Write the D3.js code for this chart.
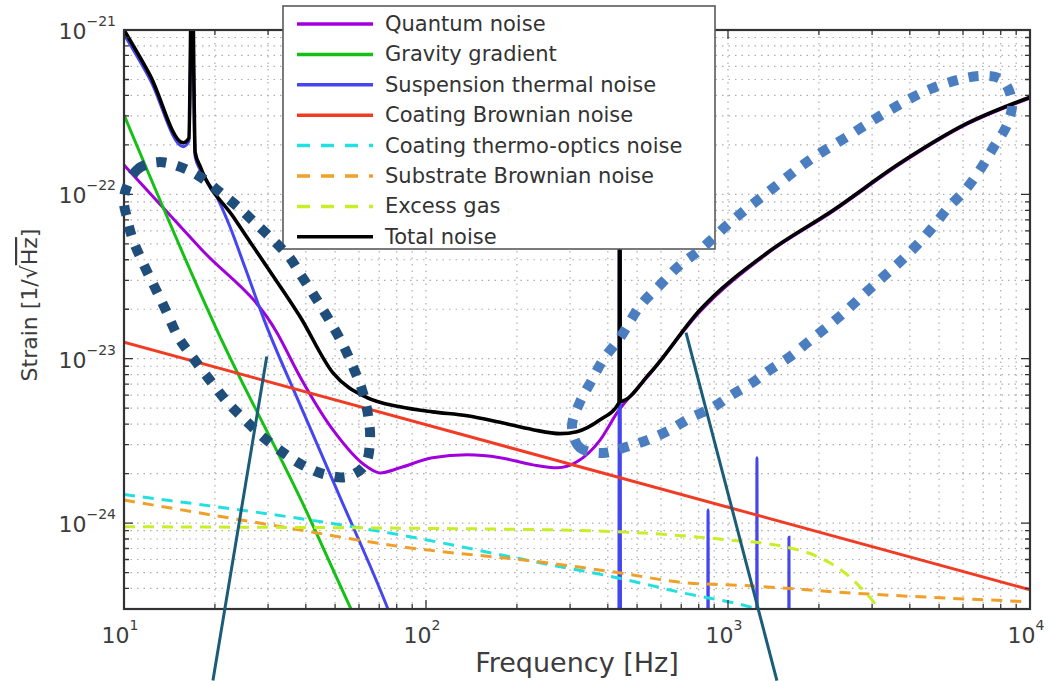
<!DOCTYPE html>
<html>
<head>
<meta charset="utf-8">
<script src="https://cdn.jsdelivr.net/npm/d3@7"></script>
<style>
    body { margin: 0; background: #fff; }
    svg { display: block; font-family: "DejaVu Sans", sans-serif; }
</style>
</head>
<body>
<svg id="chart" width="1051" height="681"></svg>
<script>
// [frequency Hz, strain 1/sqrt(Hz)]
const quantumNoise = [
    [10, 1.51e-22], [17.9, 4.7e-23], [32.1, 1.44e-23], [38.3, 7.75e-24], [49.2, 3.69e-24],
    [63.8, 2.2e-24], [70.5, 2.02e-24], [82, 2.17e-24], [105, 2.5e-24], [137, 2.6e-24],
    [176, 2.5e-24], [226, 2.26e-24], [272, 2.17e-24], [316, 2.36e-24], [377, 3.2e-24],
    [429, 4.68e-24], [552, 8.1e-24], [807, 1.93e-23], [1346, 4.35e-23], [2228, 7.9e-23],
    [3715, 1.53e-22], [6180, 2.67e-22], [10000, 3.85e-22]
];
const gravityGradient = [[10, 3.04e-22], [20.3, 1.5e-23], [40, 1.2e-24], [56, 3.1e-25], [70, 1.3e-25]];
const suspensionThermal = [
    [10, 9.4e-22], [12.2, 5.0e-22], [15.7, 1.95e-22], [16.4, 2.1e-22], [16.8, 2e-21],
    [17.2, 1.7e-22], [17.9, 1.4e-22], [20.0, 1.02e-22], [22.4, 6.4e-23], [25.2, 3.56e-23],
    [29.3, 1.67e-23], [38.3, 5.24e-24], [51.9, 1.44e-24], [74.8, 3.0e-25], [90, 1.2e-25],
    [434, 1e-26], [438, 2e-21], [442, 1e-26],
    [855, 1e-26], [859, 1.2e-24], [863, 1e-26],
    [1242, 1e-26], [1247, 2.5e-24], [1252, 1e-26],
    [1586, 1e-26], [1592, 8.2e-25], [1598, 1e-26]
];
const coatingBrownian = [[10, 1.26e-23], [10000, 3.93e-25]];
const coatingThermoOptic = [
    [10, 1.49e-24], [82, 8.47e-25], [258, 5.57e-25], [429, 4.65e-25], [709, 3.76e-25],
    [1183, 3.09e-25], [1500, 2.7e-25]
];
const substrateBrownian = [
    [10, 1.38e-24], [30, 9.8e-25], [82, 7.2e-25], [258, 5.7e-25], [430, 5.0e-25],
    [709, 4.35e-25], [1183, 4.15e-25], [2535, 3.76e-25], [10000, 3.32e-25]
];
const excessGas = [
    [10, 9.5e-25], [258, 9.1e-25], [1000, 7.9e-25], [1530, 7.2e-25], [1960, 6.3e-25],
    [2530, 4.7e-25], [2880, 3.7e-25], [3170, 3.0e-25], [3400, 2.5e-25]
];
const totalNoise = [
    [10, 1.0e-21], [12.2, 5.3e-22], [15.7, 2.06e-22], [16.4, 2.2e-22], [16.8, 3e-21],
    [17.2, 1.8e-22], [17.9, 1.47e-22], [23.0, 7.3e-23], [29.8, 3.6e-23], [38.3, 1.8e-23],
    [49.2, 8.2e-24], [63.8, 5.8e-24], [82, 5.1e-24], [105, 4.75e-24], [137, 4.5e-24],
    [176, 4.1e-24], [226, 3.7e-24], [278, 3.5e-24], [316, 3.6e-24], [377, 4.25e-24],
    [436, 5.4e-24], [438, 3e-21], [440, 5.5e-24], [552, 8.2e-24], [807, 1.98e-23],
    [1346, 4.4e-23], [2228, 8.0e-23], [3715, 1.55e-22], [6180, 2.7e-22], [10000, 3.9e-22]
];

const legendLabels = [
    "Quantum noise", "Gravity gradient", "Suspension thermal noise", "Coating Brownian noise",
    "Coating thermo-optics noise", "Substrate Brownian noise", "Excess gas", "Total noise"
];
const xTicks = [10, 100, 1000, 10000];
const xTickExp = ["1", "2", "3", "4"];
const yTicks = [1e-21, 1e-22, 1e-23, 1e-24];
const yTickExp = ["\u221221", "\u221222", "\u221223", "\u221224"];

// hand-drawn annotations, same units as the data
const leftLoop = [
    [10, 9.64e-23], [11.04, 1.41e-22], [12.96, 1.57e-22], [15.33, 1.47e-22], [17.85, 1.28e-22],
    [20.79, 1.03e-22], [23.85, 8.38e-23], [27.16, 6.7e-23], [31.14, 5.28e-23], [35.45, 4.1e-23],
    [38.86, 3.15e-23], [42.9, 2.38e-23], [47.37, 1.77e-23], [52.71, 1.25e-23], [57.33, 8.91e-24],
    [61.41, 6.46e-24], [64.27, 4.55e-24], [65.27, 3.21e-24], [62.81, 2.26e-24], [54.76, 1.91e-24],
    [45.6, 1.99e-24], [38.86, 2.26e-24], [33.37, 2.71e-24], [28.86, 3.34e-24], [25.16, 4.24e-24],
    [22.1, 5.38e-24], [19.56, 7.13e-24], [16.8, 1.03e-23], [15.1, 1.36e-23], [13.88, 1.9e-23],
    [12.86, 2.55e-23], [11.73, 3.61e-23], [10.71, 5.28e-23], [10.23, 7.18e-23]
];
const rightLoop = [
    [385.6, 2.67e-24], [323.6, 2.87e-24], [304.4, 3.85e-24], [323.6, 5.46e-24], [354.6, 7.43e-24],
    [385.6, 9.83e-24], [438.9, 1.34e-23], [511.1, 2.09e-23], [595.5, 2.81e-23], [693.6, 3.72e-23],
    [807.9, 4.59e-23], [1039, 6.98e-23], [1409, 1.09e-22], [1868, 1.62e-22], [2535, 2.3e-22],
    [3440, 3.26e-22], [4773, 4.44e-22], [6831, 5.25e-22], [8076, 4.97e-22], [8717, 3.65e-22],
    [8391, 2.64e-22], [7543, 1.91e-22], [6831, 1.41e-22], [6093, 1.06e-22], [5352, 8.27e-23],
    [4773, 6.34e-23], [4224, 4.92e-23], [3711, 3.88e-23], [3236, 3.1e-23], [2800, 2.44e-23],
    [2440, 1.93e-23], [2127, 1.56e-23], [1840, 1.26e-23], [1605, 1.03e-23], [1377, 8.55e-24],
    [1201, 7.13e-24], [1031, 6.03e-24], [885, 5.02e-24], [749, 4.36e-24], [643, 3.69e-24],
    [543, 3.21e-24], [463, 2.91e-24]
];
const pointerLines = [
    [[29.7, 1.03e-23], [19.7, 1.1e-25]],
    [[726, 1.44e-23], [1452, 1.1e-25]]
];

const series = [quantumNoise, gravityGradient, suspensionThermal, coatingBrownian,
    coatingThermoOptic, substrateBrownian, excessGas, totalNoise];
const seriesColors = ["#a000dc", "#14c014", "#4646ee", "#f03c24", "#22e0e0", "#f0a028", "#c8ee28", "#000"];
const seriesDashed = [false, false, false, false, true, true, true, false];

const svg = d3.select("#chart");
const plotLeft = 124, plotRight = 1030, plotTop = 30, plotBottom = 609;

const x = d3.scaleLog().domain([10, 1e4]).range([plotLeft, plotRight]);
const y = d3.scaleLog().domain([3e-25, 1e-21]).range([plotBottom, plotTop]);
const isMajor = v => Math.abs(Math.log10(v) - Math.round(Math.log10(v))) < 1e-9;

svg.append("clipPath").attr("id", "plotArea").append("rect")
    .attr("x", plotLeft).attr("y", plotTop)
    .attr("width", plotRight - plotLeft).attr("height", plotBottom - plotTop);

// dotted grid, major + minor
let grid = svg.append("g")
    .attr("stroke", "#adadad")
    .attr("stroke-width", 1.2)
    .attr("stroke-dasharray", "1.5 5");

grid.selectAll(null).data(x.ticks()).enter().append("line")
    .attr("x1", d => x(d)).attr("x2", d => x(d))
    .attr("y1", plotTop).attr("y2", plotBottom);

grid.selectAll(null).data(y.ticks()).enter().append("line")
    .attr("y1", d => y(d)).attr("y2", d => y(d))
    .attr("x1", plotLeft).attr("x2", plotRight);

// curves
let line = d3.line()
    .x(d => x(d[0]))
    .y(d => y(d[1]))
    .curve(d3.curveMonotoneX);

svg.append("g").attr("clip-path", "url(#plotArea)")
    .selectAll("path")
    .data(series)
    .enter()
    .append("path")
    .attr("d", line)
    .attr("fill", "none")
    .attr("stroke", (d, i) => seriesColors[i])
    .attr("stroke-width", (d, i) => i === 7 ? 3.6 : 3)
    .attr("stroke-dasharray", (d, i) => seriesDashed[i] ? "11 8" : null);

// frame and inward ticks on all four sides
let frame = svg.append("g").attr("stroke", "#333");

frame.selectAll(null).data(x.ticks()).enter().append("path")
    .attr("stroke-width", 1.3)
    .attr("d", d => {
        let len = isMajor(d) ? 9 : 5;
        return `M${x(d)},${plotBottom}v${-len}M${x(d)},${plotTop}v${len}`;
    });

frame.selectAll(null).data(y.ticks()).enter().append("path")
    .attr("stroke-width", 1.3)
    .attr("d", d => {
        let len = isMajor(d) ? 9 : 5;
        return `M${plotLeft},${y(d)}h${len}M${plotRight},${y(d)}h${-len}`;
    });

frame.append("rect")
    .attr("x", plotLeft).attr("y", plotTop)
    .attr("width", plotRight - plotLeft).attr("height", plotBottom - plotTop)
    .attr("fill", "none")
    .attr("stroke-width", 2.2);

// tick labels as 10^n
let xLab = svg.append("g").attr("fill", "#3c3c3c");
xTicks.forEach((t, i) => {
    let txt = xLab.append("text")
        .attr("x", x(t) - 4).attr("y", 643)
        .attr("text-anchor", "middle")
        .attr("font-size", 22);
    txt.append("tspan").text("10");
    txt.append("tspan").attr("dy", -13).attr("font-size", 14).text(xTickExp[i]);
});

let yLab = svg.append("g").attr("fill", "#3c3c3c");
yTicks.forEach((t, i) => {
    let txt = yLab.append("text")
        .attr("x", 116).attr("y", y(t) + 9)
        .attr("text-anchor", "end")
        .attr("font-size", 22);
    txt.append("tspan").text("10");
    txt.append("tspan").attr("dy", -13).attr("font-size", 14).text(yTickExp[i]);
});

svg.append("text")
    .attr("x", (plotLeft + plotRight) / 2).attr("y", 672)
    .attr("text-anchor", "middle")
    .attr("font-size", 27)
    .attr("fill", "#3c3c3c")
    .text("Frequency [Hz]");

let yTitle = svg.append("text")
    .attr("transform", "translate(37, 305) rotate(-90)")
    .attr("text-anchor", "middle")
    .attr("font-size", 22)
    .attr("fill", "#3c3c3c");
yTitle.append("tspan").text("Strain  [1/\u221A");
yTitle.append("tspan").attr("text-decoration", "overline").text("Hz");
yTitle.append("tspan").text("]");

// legend
let legend = svg.append("g");
legend.append("rect")
    .attr("x", 283).attr("y", 6)
    .attr("width", 432).attr("height", 243)
    .attr("fill", "#fff")
    .attr("stroke", "#5a5a5a")
    .attr("stroke-width", 1.6);

let item = legend.selectAll(null)
    .data(legendLabels)
    .enter()
    .append("g")
    .attr("transform", (d, i) => `translate(0, ${24 + i * 30.4})`);

item.append("line")
    .attr("x1", 297).attr("x2", 373)
    .attr("stroke", (d, i) => seriesColors[i])
    .attr("stroke-width", 3.5)
    .attr("stroke-dasharray", (d, i) => seriesDashed[i] ? "13 11" : null);

item.append("text")
    .attr("x", 385).attr("y", 7)
    .attr("font-size", 21)
    .attr("fill", "#333")
    .text(d => d);

// annotations on top
let loop = d3.line()
    .x(d => x(d[0]))
    .y(d => y(d[1]))
    .curve(d3.curveCatmullRomClosed);

svg.append("path")
    .attr("d", loop(leftLoop))
    .attr("fill", "none")
    .attr("stroke", "#1f4e7a")
    .attr("stroke-width", 10)
    .attr("stroke-dasharray", "10 11");

svg.append("path")
    .attr("d", loop(rightLoop))
    .attr("fill", "none")
    .attr("stroke", "#4a7ec0")
    .attr("stroke-width", 10)
    .attr("stroke-dasharray", "10 11");

svg.selectAll(null)
    .data(pointerLines)
    .enter()
    .append("path")
    .attr("d", d3.line().x(d => x(d[0])).y(d => y(d[1])))
    .attr("stroke", "#1b5c78")
    .attr("stroke-width", 3);
</script>
</body>
</html>
